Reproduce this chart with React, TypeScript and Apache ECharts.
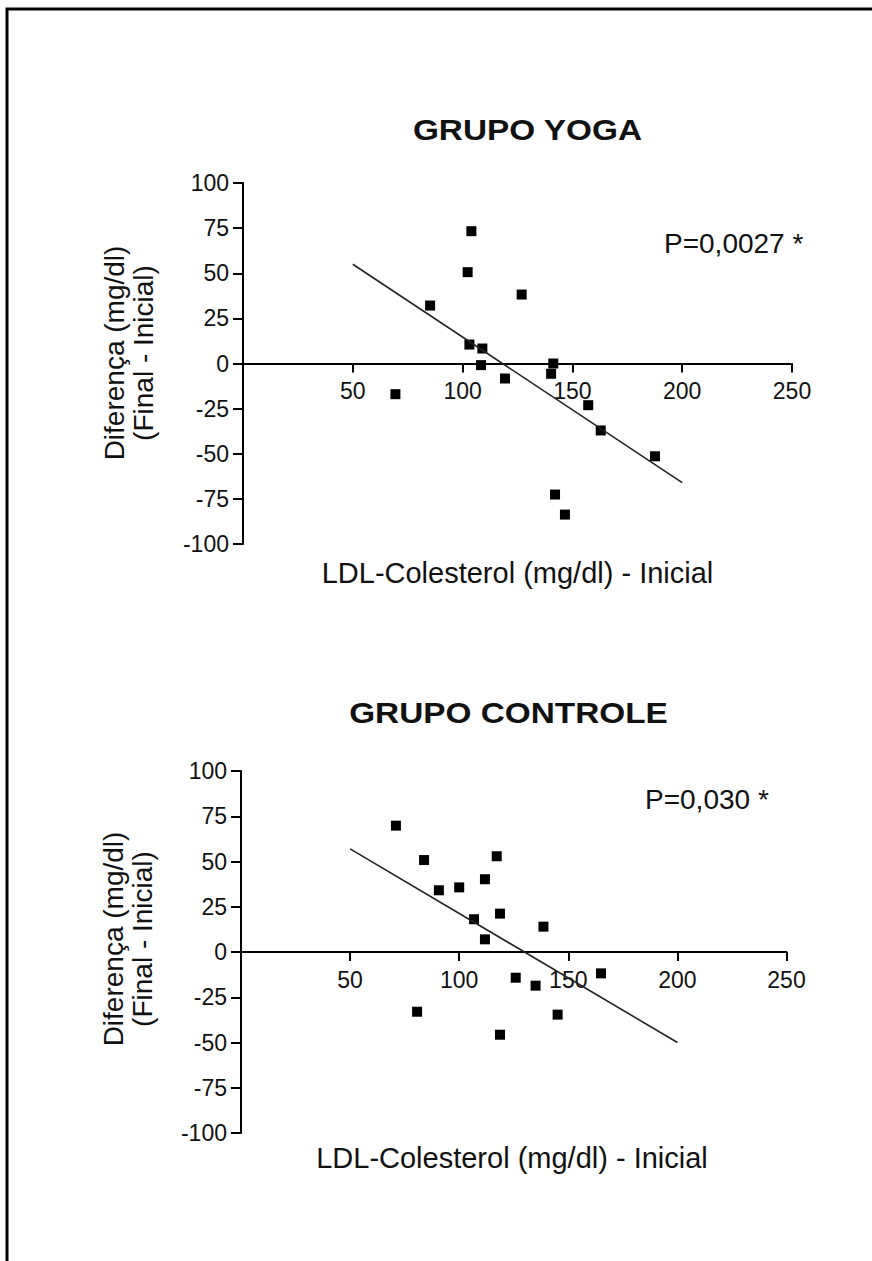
import React, { useEffect, useRef } from "react";
import * as echarts from "echarts";

const FONT = '"Liberation Sans", Arial, Helvetica, sans-serif';

// Grupo Yoga: LDL inicial (x) vs diferença (y)
const yogaX = [104, 102.3, 126.9, 103.1, 109, 108.4, 119.3, 141.3, 140.3, 85.2, 69.4, 142.1, 146.6, 157.2, 162.9, 187.6];
const yogaY = [73.3, 50.6, 38.2, 10.5, 8.3, -0.9, -8.3, 0, -5.7, 32.1, -17, -72.6, -83.7, -23.1, -37.1, -51.4];
const yogaFit = [[50, 55], [200, -66]];

// Grupo Controle
const ctrlX = [71, 83.9, 90.7, 100, 111.8, 106.8, 111.8, 117.2, 118.7, 138.6, 125.9, 135, 165, 145.1, 118.7, 80.7];
const ctrlY = [69.8, 50.8, 34.1, 35.7, 40.2, 18.1, 7, 52.9, 21.2, 14, -14.2, -18.6, -11.8, -34.6, -45.7, -33];
const ctrlFit = [[50, 57], [200, -50]];

const titles = ["GRUPO YOGA", "GRUPO CONTROLE"];
const pValues = ["P=0,0027 *", "P=0,030 *"];
const xName = "LDL-Colesterol (mg/dl) - Inicial";
const yName = "Diferença (mg/dl)\n(Final - Inicial)";

const xMin = 0, xMax = 250, xStep = 50;
const yMin = -100, yMax = 100, yStep = 25;

const grids = [
  { left: 243, top: 183, width: 549, height: 361 },
  { left: 241, top: 771, width: 545.5, height: 362 },
];

function zip(xs: number[], ys: number[]) {
  return xs.map((x, i) => [x, ys[i]]);
}

function makeX(gridIndex: number) {
  // x axis crosses the y axis at y = 0, the middle of the grid
  return {
    gridIndex,
    type: "value",
    min: xMin,
    max: xMax,
    interval: xStep,
    position: "bottom",
    offset: -grids[gridIndex].height / 2,
    axisLine: { show: true, onZero: false, lineStyle: { color: "#000", width: 2 } },
    axisTick: { show: true, length: 9, lineStyle: { color: "#000", width: 2 } },
    axisLabel: {
      margin: 16,
      fontSize: 23,
      fontFamily: FONT,
      color: "#111",
      formatter: (v: number) => (v === 0 ? "" : String(v)),
    },
    splitLine: { show: false },
  };
}

function makeY(gridIndex: number) {
  return {
    gridIndex,
    type: "value",
    min: yMin,
    max: yMax,
    interval: yStep,
    axisLine: { show: true, onZero: false, lineStyle: { color: "#000", width: 2 } },
    axisTick: { show: true, length: 10, lineStyle: { color: "#000", width: 2 } },
    axisLabel: { margin: 14, fontSize: 23, fontFamily: FONT, color: "#111" },
    splitLine: { show: false },
  };
}

function txt(text: string, x: number, y: number, font: string, align = "center", extra: any = {}) {
  return {
    type: "text",
    x,
    y,
    ...extra,
    style: {
      text,
      font,
      fill: "#111",
      align,
      verticalAlign: "middle",
      textAlign: align,
      textVerticalAlign: "middle",
      lineHeight: 29,
    },
  };
}

export default function App() {
  const ref = useRef<HTMLDivElement>(null);
  useEffect(() => {
    if (!ref.current) return;
    const chart = echarts.init(ref.current, null, { renderer: "svg" });
    const option: any = {
      animation: false,
      backgroundColor: "#ffffff",
      grid: grids,
      xAxis: [makeX(0), makeX(1)],
      yAxis: [makeY(0), makeY(1)],
      series: [
        {
          type: "scatter",
          xAxisIndex: 0,
          yAxisIndex: 0,
          symbol: "rect",
          symbolSize: 10,
          itemStyle: { color: "#000", opacity: 1 },
          data: zip(yogaX, yogaY),
        },
        {
          type: "line",
          xAxisIndex: 0,
          yAxisIndex: 0,
          symbol: "none",
          lineStyle: { color: "#222", width: 1.6 },
          data: yogaFit,
        },
        {
          type: "scatter",
          xAxisIndex: 1,
          yAxisIndex: 1,
          symbol: "rect",
          symbolSize: 10,
          itemStyle: { color: "#000", opacity: 1 },
          data: zip(ctrlX, ctrlY),
        },
        {
          type: "line",
          xAxisIndex: 1,
          yAxisIndex: 1,
          symbol: "none",
          lineStyle: { color: "#222", width: 1.6 },
          data: ctrlFit,
        },
      ],
      graphic: [
        {
          type: "rect",
          shape: { x: 7, y: 9, width: 900, height: 1300 },
          style: { fill: "none", stroke: "#000", lineWidth: 3 },
          silent: true,
        },
        txt(titles[0], 527.5, 130, `bold 29px ${FONT}`, "center", { scaleX: 1.15 }),
        txt(titles[1], 508.5, 713, `bold 29px ${FONT}`, "center", { scaleX: 1.15 }),
        txt(pValues[0], 664, 243, `28px ${FONT}`, "left"),
        txt(pValues[1], 645, 799, `28px ${FONT}`, "left"),
        txt(xName, 517.5, 573, `29px ${FONT}`, "center"),
        txt(xName, 512, 1158, `29px ${FONT}`, "center"),
        txt(yName, 128.5, 353, `28px ${FONT}`, "center", { rotation: Math.PI / 2 }),
        txt(yName, 128, 939, `28px ${FONT}`, "center", { rotation: Math.PI / 2 }),
      ],
    };
    chart.setOption(option);
    return () => chart.dispose();
  }, []);
  return (
    <div
      ref={ref}
      style={{ position: "absolute", left: 0, top: 0, width: 872, height: 1261, background: "#fff" }}
    />
  );
}
